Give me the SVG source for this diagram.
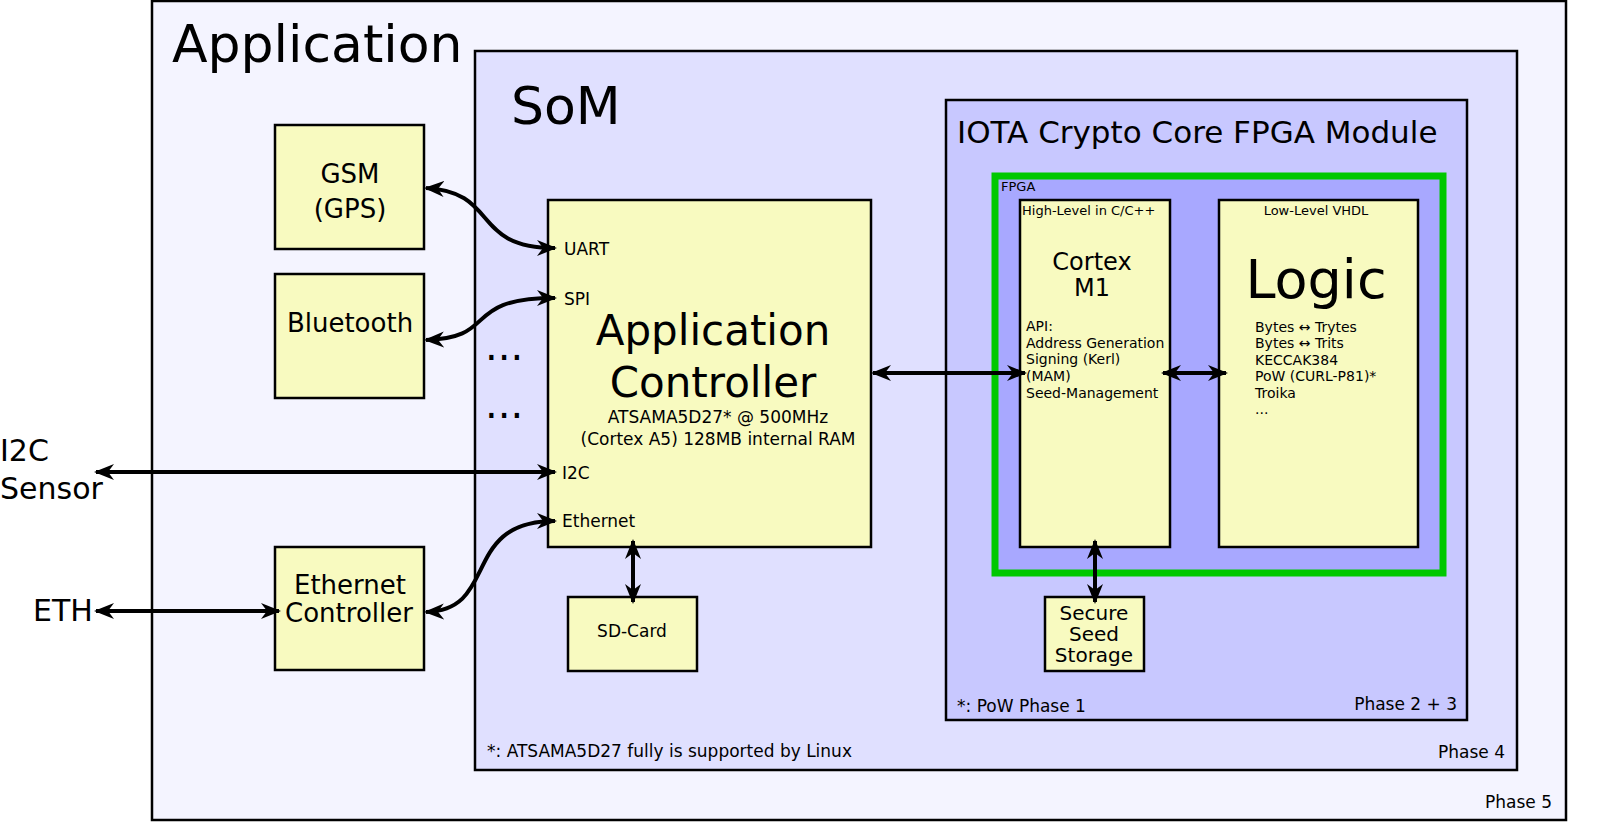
<svg xmlns="http://www.w3.org/2000/svg" width="1600" height="838" viewBox="0 0 1600 838">
<style>
text{font-family:"DejaVu Sans","Liberation Sans",sans-serif;fill:#000}
.box{fill:#f8fac0;stroke:#000;stroke-width:2.5}
.c{fill:none;stroke:#000;stroke-width:4;marker-start:url(#a);marker-end:url(#a)}
</style>
<defs>
<marker id="a" viewBox="0 0 10 10" refX="9" refY="5" markerWidth="5" markerHeight="5" orient="auto-start-reverse" markerUnits="strokeWidth">
<path d="M0,1 L10,5 L0,9 L3,5 Z" fill="#000"/>
</marker>
</defs>
<rect width="1600" height="838" fill="#fff"/>
<g id="application"><rect x="152" y="1" width="1414" height="819" fill="#f4f4ff" stroke="#000" stroke-width="2.5"/>
<text x="172" y="62" font-size="52">Application</text><text x="1552" y="808" font-size="17" text-anchor="end">Phase 5</text></g>
<g id="som"><rect x="475" y="51" width="1042" height="719" fill="#e0e0ff" stroke="#000" stroke-width="2.5"/>
<text x="511" y="124" font-size="52">SoM</text><text x="1505" y="758" font-size="17" text-anchor="end">Phase 4</text>
<text x="487" y="757" font-size="17">*: ATSAMA5D27 fully is supported by Linux</text>
<text x="485" y="360" font-size="40">...</text><text x="485" y="418" font-size="40">...</text></g>
<g id="iota"><rect x="946" y="100" width="521" height="620" fill="#c8c8ff" stroke="#000" stroke-width="2.5"/>
<text x="957" y="143" font-size="31">IOTA Crypto Core FPGA Module</text>
<text x="957" y="712" font-size="17">*: PoW Phase 1</text><text x="1457" y="710" font-size="17" text-anchor="end">Phase 2 + 3</text></g>
<g id="fpga"><rect x="995" y="176" width="448" height="397" fill="#a8a8ff" stroke="#00c800" stroke-width="7"/>
<text x="1001" y="191" font-size="13">FPGA</text></g>
<g id="cortex"><rect class="box" x="1020" y="200" width="150" height="347"/>
<text x="1022" y="215" font-size="13">High-Level in C/C++</text>
<text x="1092" y="270" font-size="24" text-anchor="middle">Cortex</text><text x="1092" y="296" font-size="24" text-anchor="middle">M1</text>
<text font-size="14"><tspan x="1026" y="331">API:</tspan><tspan x="1026" y="348">Address Generation</tspan><tspan x="1026" y="364">Signing (Kerl)</tspan><tspan x="1026" y="381">(MAM)</tspan><tspan x="1026" y="398">Seed-Management</tspan></text></g>
<g id="logic"><rect class="box" x="1219" y="200" width="199" height="347"/>
<text x="1316" y="215" font-size="13" text-anchor="middle">Low-Level VHDL</text>
<text x="1316" y="298" font-size="54" text-anchor="middle">Logic</text>
<text font-size="14"><tspan x="1255" y="332">Bytes ↔ Trytes</tspan><tspan x="1255" y="348">Bytes ↔  Trits</tspan><tspan x="1255" y="365">KECCAK384</tspan><tspan x="1255" y="381">PoW (CURL-P81)*</tspan><tspan x="1255" y="398">Troika</tspan><tspan x="1255" y="414">...</tspan></text></g>
<g id="controller"><rect class="box" x="548" y="200" width="323" height="347"/>
<text x="713" y="345" font-size="42" text-anchor="middle">Application</text><text x="713" y="397" font-size="42" text-anchor="middle">Controller</text>
<text x="718" y="423" font-size="17" text-anchor="middle">ATSAMA5D27* @ 500MHz</text><text x="718" y="445" font-size="17" text-anchor="middle">(Cortex A5) 128MB internal RAM</text>
<text font-size="17"><tspan x="564" y="255">UART</tspan><tspan x="564" y="305">SPI</tspan><tspan x="562" y="479">I2C</tspan><tspan x="562" y="527">Ethernet</tspan></text></g>
<g id="gsm"><rect class="box" x="275" y="125" width="149" height="124"/><text x="350" y="183" font-size="26" text-anchor="middle">GSM</text><text x="350" y="218" font-size="26" text-anchor="middle">(GPS)</text></g>
<g id="bluetooth"><rect class="box" x="275" y="274" width="149" height="124"/><text x="350" y="332" font-size="26" text-anchor="middle">Bluetooth</text></g>
<g id="ethernet"><rect class="box" x="275" y="547" width="149" height="123"/><text x="350" y="594" font-size="26" text-anchor="middle">Ethernet</text><text x="349" y="622" font-size="26" text-anchor="middle">Controller</text></g>
<g id="sdcard"><rect class="box" x="568" y="597" width="129" height="74"/><text x="632" y="637" font-size="17" text-anchor="middle">SD-Card</text></g>
<g id="secure"><rect class="box" x="1045" y="597" width="99" height="74"/><text font-size="20" text-anchor="middle"><tspan x="1094" y="620">Secure</tspan><tspan x="1094" y="641">Seed</tspan><tspan x="1094" y="662">Storage</tspan></text></g>
<g id="ext"><text x="0" y="461" font-size="30">I2C</text><text x="0" y="499" font-size="30">Sensor</text><text x="33" y="621" font-size="30">ETH</text></g>
<g id="connectors">
<path class="c" d="M426,188 C500,192 470,248 555,248"/>
<path class="c" d="M426,340 C500,338 460,298 555,298"/>
<path class="c" d="M96,472 L555,472"/>
<path class="c" d="M426,612 C500,610 460,521 555,521"/>
<path class="c" d="M96,611 L279,611"/>
<path class="c" d="M633,541 L633,602"/>
<path class="c" d="M873,373 L1025,373"/>
<path class="c" d="M1163,373 L1226,373"/>
<path class="c" d="M1095,541 L1095,602"/>
</g>
</svg>
